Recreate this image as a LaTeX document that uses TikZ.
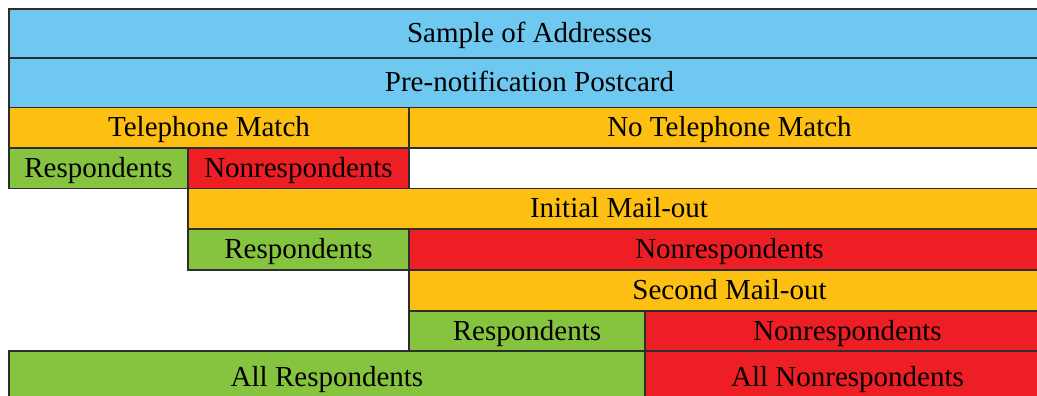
\documentclass[tikz,border=0pt]{standalone}
\usepackage{fontspec}
\setmainfont{Liberation Serif}
\definecolor{cblue}{RGB}{110,200,240}
\definecolor{corange}{RGB}{253,191,17}
\definecolor{cgreen}{RGB}{134,196,64}
\definecolor{cred}{RGB}{237,30,36}
\definecolor{cline}{RGB}{45,45,45}
\tikzset{
  cellbox/.style={draw=cline, line width=1.3pt, inner sep=0pt, outer sep=0pt,
    anchor=north west, text height=18pt, text depth=0pt,
    font=\fontsize{29}{32}\selectfont, text=black}
}
\newcommand{\mycell}[7]{%
  \pgfmathsetmacro{\cw}{#4-#2}\pgfmathsetmacro{\ch}{#5-#3}%
  \node[cellbox, fill=#6, minimum width=\cw pt, minimum height=\ch pt] (#1) at (#2pt,-#3pt) {#7};}
\begin{document}
\begin{tikzpicture}[x=1pt,y=1pt]
\useasboundingbox (0,0) rectangle (1037,-396);
\clip (0,0) rectangle (1037,-396);
\fill[white] (0,0) rectangle (1037,-396);
\mycell{sample}{9}{9}{1050}{58}{cblue}{Sample of Addresses}
\mycell{postcard}{9}{58}{1050}{107.5}{cblue}{Pre-notification Postcard}
\mycell{tel}{9}{107.5}{409}{148}{corange}{Telephone Match}
\mycell{notel}{409}{107.5}{1050}{148}{corange}{No Telephone Match}
\mycell{resp1}{9}{148}{188}{188.5}{cgreen}{Respondents}
\mycell{nonresp1}{188}{148}{409}{188.5}{cred}{Nonrespondents}
\mycell{initial}{188}{188.5}{1050}{229}{corange}{Initial Mail-out}
\mycell{resp2}{188}{229}{409}{270}{cgreen}{Respondents}
\mycell{nonresp2}{409}{229}{1050}{270}{cred}{Nonrespondents}
\mycell{second}{409}{270}{1050}{311}{corange}{Second Mail-out}
\mycell{resp3}{409}{311}{645}{351}{cgreen}{Respondents}
\mycell{nonresp3}{645}{311}{1050}{351}{cred}{Nonrespondents}
\mycell{allresp}{9}{351}{645}{404}{cgreen}{All Respondents}
\mycell{allnon}{645}{351}{1050}{404}{cred}{All Nonrespondents}
\end{tikzpicture}
\end{document}
